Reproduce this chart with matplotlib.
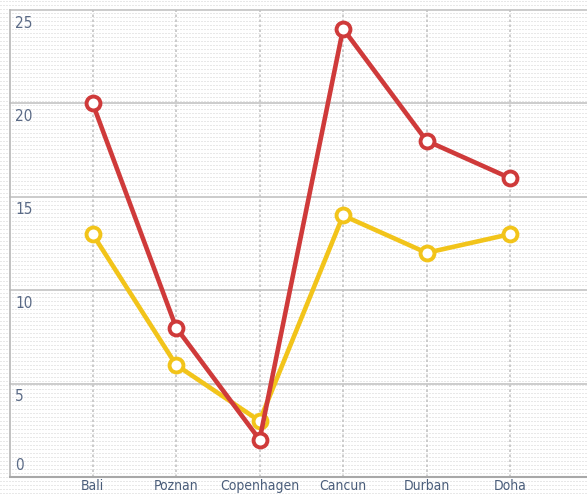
import numpy as np
import matplotlib
matplotlib.use("Agg")
import matplotlib.pyplot as plt
from matplotlib import font_manager

categories = ["Bali", "Poznan", "Copenhagen", "Cancun", "Durban", "Doha"]
red_values = [20, 8, 2, 24, 18, 16]
yellow_values = [13, 6, 3, 14, 12, 13]
y_ticks = [0, 5, 10, 15, 20, 25]

W, H = 587, 495
fig = plt.figure(figsize=(W / 100, H / 100), dpi=100)

# textured background
pat = np.ones((H, W, 3))
yy, xx = np.mgrid[0:H, 0:W]
mask = ((yy % 4) == 1) & ((xx % 3) != 2)
pat[mask] = 0.91
fig.figimage(pat, xo=0, yo=0, zorder=-10)

fp_x = font_manager.FontProperties(family="DejaVu Sans", stretch="condensed", size=10)
fp_y = font_manager.FontProperties(family="DejaVu Sans", stretch="condensed", size=11)

left, right, top, bottom = 10, 591, 10, 477
ax = fig.add_axes([left / W, 1 - bottom / H, (right - left) / W, (bottom - top) / H])
ax.set_zorder(5)
ax.patch.set_alpha(0)
ax.set_xlim(-0.99, 5.97)
ax.set_ylim(0, 25)

x = np.arange(len(categories))
for yv in y_ticks[1:]:
    ax.axhline(yv, color="#c8c8c8", lw=1.3, zorder=1, clip_on=False)
for xv in x:
    ax.axvline(xv, color="#c4c4c4", lw=1.2, ls=(0, (1.5, 1.5)), zorder=1)

ax.plot(x, yellow_values, color="#f2c41a", lw=3.3, marker="o", ms=10,
        mfc="white", mec="#f2c41a", mew=2.8, zorder=3, clip_on=False)
ax.plot(x, red_values, color="#cf3a3a", lw=3.3, marker="o", ms=10,
        mfc="white", mec="#cf3a3a", mew=2.8, zorder=4, clip_on=False)

for s in ["top", "right"]:
    ax.spines[s].set_visible(False)
ax.spines["left"].set_color("#b8b8b8")
ax.spines["bottom"].set_color("#a8a8a8")
ax.spines["left"].set_linewidth(1.2)
ax.spines["bottom"].set_linewidth(1.5)

ax.set_xticks(x)
ax.set_xticklabels(categories, color="#4a5d7a")
for t in ax.get_xticklabels():
    t.set_fontproperties(fp_x)
ax.tick_params(axis="x", length=0, pad=1.5)
ax.set_yticks([])

for yv in y_ticks:
    if yv == 0:
        ax.text(-0.93, 0.2, str(yv), color="#5a6a86", fontproperties=fp_y,
                va="bottom", ha="left")
    else:
        ax.text(-0.93, yv - 0.3, str(yv), color="#5a6a86", fontproperties=fp_y,
                va="top", ha="left")

fig.savefig("out.png", dpi=100)
